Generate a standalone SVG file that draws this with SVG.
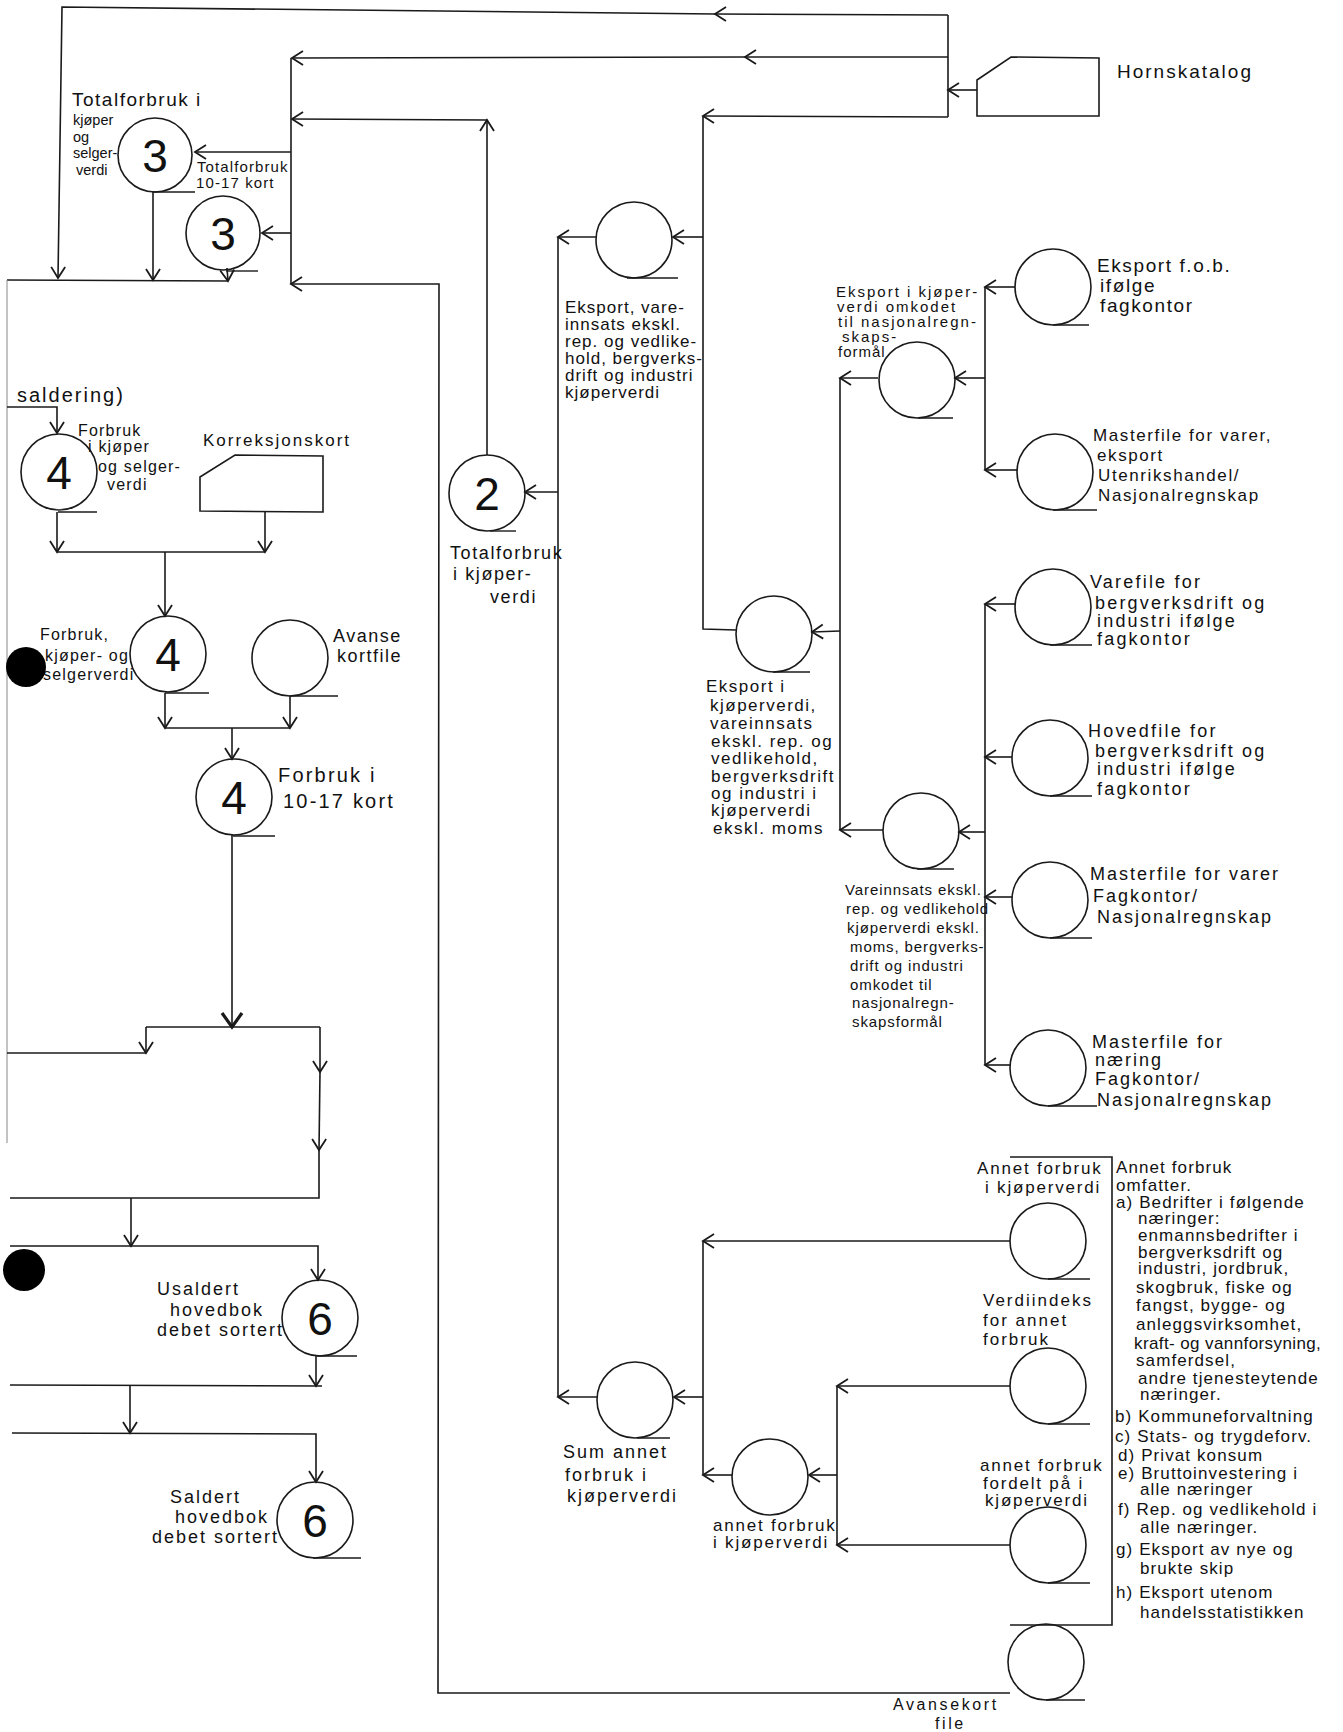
<svg xmlns="http://www.w3.org/2000/svg" width="1343" height="1732" viewBox="0 0 1343 1732">
<defs>
<marker id="a" markerUnits="userSpaceOnUse" markerWidth="30" markerHeight="30" viewBox="-15 -15 30 30" refX="0" refY="0" orient="auto" overflow="visible">
<path d="M-11,-7 L0,0 L-11,7" fill="none" stroke="#1a1a1a" stroke-width="1.8"/>
</marker>
<marker id="ab" markerUnits="userSpaceOnUse" markerWidth="40" markerHeight="40" viewBox="-20 -20 40 40" refX="0" refY="0" orient="auto" overflow="visible">
<path d="M-14,-10 L0,0 L-14,10" fill="none" stroke="#1a1a1a" stroke-width="3.2"/>
</marker>
</defs>
<style>
.ln{fill:none;stroke:#1a1a1a;stroke-width:1.6}
.ar{fill:none;stroke:#1a1a1a;stroke-width:1.6;marker-end:url(#a)}
.edge{fill:none;stroke:#888;stroke-width:1}
.nd circle{fill:none;stroke:#1a1a1a;stroke-width:1.6}
.nd polygon{fill:none;stroke:#1a1a1a;stroke-width:1.6}
.ul{fill:none;stroke:#1a1a1a;stroke-width:1.4}
.t{font-family:"Liberation Sans",Arial,sans-serif;fill:#111}
.d{font-family:"Liberation Sans",Arial,sans-serif;font-size:46px;fill:#111;text-anchor:middle}
.dot{fill:#000}
</style>
<rect width="1343" height="1732" fill="#fff"/>

<g id="connectors">
<path class="ar" d="M948,15 L715,14"/>
<path class="ar" d="M715,14 L62,7 L58,278"/>
<path class="ln" d="M948,15 L948,117"/>
<path class="ar" d="M948,57 L745,57"/>
<path class="ar" d="M745,57 L292,58"/>
<path class="ar" d="M948,117 L703,116"/>
<path class="ar" d="M977,90 L948,90"/>
<path class="ln" d="M703,116 L703,629 L736,630"/>
<path class="ar" d="M703,237 L673,237"/>
<path class="ar" d="M596,237 L558,237"/>
<path class="ln" d="M291,58 L291,284"/>
<path class="ar" d="M487,455 L487,120"/>
<path class="ar" d="M487,120 L292,119"/>
<path class="ar" d="M291,152 L195,152"/>
<path class="ar" d="M291,233 L262,233"/>
<path class="ar" d="M1010,1693 L438,1693 L439,284 L291,284"/>
<path class="ar" d="M153,192 L153,280"/>
<path class="ar" d="M227,268 L228,281"/>
<path class="ln" d="M7,280 L228,281"/>
<path class="edge" d="M7,280 L7,1143"/>
<path class="ar" d="M7,407 L57,407 L57,433"/>
<path class="ar" d="M57,512 L57,552"/>
<path class="ar" d="M265,512 L265,552"/>
<path class="ln" d="M57,552 L265,552"/>
<path class="ar" d="M165,552 L165,616"/>
<path class="ar" d="M165,693 L165,728"/>
<path class="ar" d="M290,696 L290,728"/>
<path class="ln" d="M165,728 L290,728"/>
<path class="ar" d="M232,728 L232,759"/>
<path class="ln" d="M232,835 L232,1027" style="marker-end:url(#ab)"/>
<path class="ln" d="M146,1027 L320,1027"/>
<path class="ar" d="M146,1027 L146,1053"/>
<path class="ln" d="M7,1053 L146,1053"/>
<path class="ar" d="M320,1027 L320,1072"/>
<path class="ar" d="M320,1072 L319,1150"/>
<path class="ln" d="M319,1150 L319,1198 L10,1198"/>
<path class="ar" d="M131,1198 L131,1246"/>
<path class="ar" d="M10,1246 L318,1246 L318,1280"/>
<path class="ar" d="M316,1356 L316,1386"/>
<path class="ln" d="M10,1385 L322,1386"/>
<path class="ar" d="M130,1385 L130,1433"/>
<path class="ar" d="M12,1433 L316,1434 L316,1482"/>
<path class="ln" d="M558,237 L558,1397"/>
<path class="ar" d="M597,1397 L558,1397"/>
<path class="ar" d="M558,492 L525,492"/>
<path class="ar" d="M840,631 L812,632"/>
<path class="ar" d="M878,378 L840,378"/>
<path class="ln" d="M840,378 L840,830"/>
<path class="ar" d="M883,830 L840,830"/>
<path class="ar" d="M1015,287 L985,287"/>
<path class="ln" d="M985,287 L985,470"/>
<path class="ar" d="M1017,470 L985,470"/>
<path class="ar" d="M985,378 L955,378"/>
<path class="ar" d="M1015,604 L985,604"/>
<path class="ln" d="M985,604 L985,1065"/>
<path class="ar" d="M1012,757 L985,757"/>
<path class="ar" d="M985,832 L959,832"/>
<path class="ar" d="M1012,897 L985,897"/>
<path class="ar" d="M1010,1065 L985,1065"/>
<path class="ar" d="M1010,1241 L703,1241"/>
<path class="ln" d="M703,1241 L703,1475"/>
<path class="ar" d="M703,1397 L674,1397"/>
<path class="ar" d="M732,1475 L703,1475"/>
<path class="ar" d="M1010,1386 L837,1386"/>
<path class="ln" d="M837,1386 L837,1545"/>
<path class="ar" d="M837,1475 L809,1475"/>
<path class="ar" d="M1010,1545 L837,1545"/>
<path class="ln" d="M1010,1157 L1112,1157 L1112,1625 L1010,1625"/>
</g>

<g id="n3a" class="nd"><circle cx="155" cy="155" r="37"/><path class="ul" d="M153,192 L195,192"/><text class="d" x="155" y="172">3</text>
<text class="t" font-size="19" letter-spacing="1.5" x="72" y="106">Totalforbruk i</text>
<text class="t" font-size="14.5"><tspan x="73" y="125">kjøper</tspan><tspan x="73" y="142">og</tspan><tspan x="73" y="158">selger-</tspan><tspan x="76" y="175">verdi</tspan></text></g>
<g id="n3b" class="nd"><circle cx="223" cy="233" r="37"/><path class="ul" d="M226,271 L258,271"/><text class="d" x="223" y="250">3</text>
<text class="t" font-size="15" letter-spacing="1.1"><tspan x="197" y="172">Totalforbruk</tspan><tspan x="196" y="188">10-17 kort</tspan></text></g>

<g id="n4a" class="nd"><circle cx="59" cy="472" r="38"/><path class="ul" d="M58,512 L97,512"/><text class="d" x="59" y="489">4</text>
<text class="t" font-size="20" letter-spacing="2" x="17" y="402">saldering)</text>
<text class="t" font-size="16" letter-spacing="1.2"><tspan x="78" y="436">Forbruk</tspan><tspan x="88" y="452">i kjøper</tspan><tspan x="98" y="472">og selger-</tspan><tspan x="107" y="490">verdi</tspan></text></g>
<g id="korreksjon" class="nd"><polygon points="200,477 235,455 323,456 323,512 200,511"/><text class="t" font-size="17" letter-spacing="2" x="203" y="446">Korreksjonskort</text></g>
<g id="n4b" class="nd"><circle cx="168" cy="654" r="38"/><path class="ul" d="M165,693 L209,693"/><text class="d" x="168" y="671">4</text>
<text class="t" font-size="16" letter-spacing="1.2"><tspan x="40" y="640">Forbruk,</tspan><tspan x="45" y="661">kjøper- og</tspan><tspan x="43" y="680">selgerverdi</tspan></text></g>
<g id="avanse1" class="nd"><circle cx="290" cy="658" r="38"/><path class="ul" d="M290,696 L338,696"/>
<text class="t" font-size="18" letter-spacing="1.5"><tspan x="333" y="642">Avanse</tspan><tspan x="337" y="662">kortfile</tspan></text></g>
<g id="n4c" class="nd"><circle cx="234" cy="797" r="38"/><path class="ul" d="M233,836 L275,836"/><text class="d" x="234" y="814">4</text>
<text class="t" font-size="20" letter-spacing="2.2"><tspan x="278" y="782">Forbruk i</tspan><tspan x="283" y="808">10-17 kort</tspan></text></g>

<g id="n6a" class="nd"><circle cx="320" cy="1318" r="38"/><path class="ul" d="M317,1356 L357,1356"/><text class="d" x="320" y="1335">6</text>
<text class="t" font-size="18" letter-spacing="2"><tspan x="157" y="1295">Usaldert</tspan><tspan x="170" y="1316">hovedbok</tspan><tspan x="157" y="1336">debet sortert</tspan></text></g>
<g id="n6b" class="nd"><circle cx="315" cy="1520" r="38"/><path class="ul" d="M313,1558 L361,1558"/><text class="d" x="315" y="1537">6</text>
<text class="t" font-size="18" letter-spacing="2"><tspan x="170" y="1503">Saldert</tspan><tspan x="175" y="1523">hovedbok</tspan><tspan x="152" y="1543">debet sortert</tspan></text></g>

<g id="n2" class="nd"><circle cx="487" cy="493" r="38"/><path class="ul" d="M490,531 L516,531"/><text class="d" x="487" y="510">2</text>
<text class="t" font-size="18" letter-spacing="1.6"><tspan x="450" y="559">Totalforbruk</tspan><tspan x="453" y="580">i kjøper-</tspan><tspan x="490" y="603">verdi</tspan></text></g>

<g id="hornskatalog" class="nd"><polygon points="977,80 1011,57 1099,58 1099,116 977,116"/><text class="t" font-size="19" letter-spacing="2" x="1117" y="78">Hornskatalog</text></g>

<g id="eksport1" class="nd"><circle cx="634" cy="240" r="38"/><path class="ul" d="M627,278 L678,278"/>
<text class="t" font-size="17" letter-spacing="1"><tspan x="565" y="313">Eksport, vare-</tspan><tspan x="565" y="330">innsats ekskl.</tspan><tspan x="565" y="347">rep. og vedlike-</tspan><tspan x="565" y="364">hold, bergverks-</tspan><tspan x="565" y="381">drift og industri</tspan><tspan x="565" y="398">kjøperverdi</tspan></text></g>

<g id="eksport2" class="nd"><circle cx="774" cy="634" r="38"/><path class="ul" d="M773,672 L810,672"/>
<text class="t" font-size="17" letter-spacing="1.5"><tspan x="706" y="692">Eksport i</tspan><tspan x="710" y="711">kjøperverdi,</tspan><tspan x="710" y="729">vareinnsats</tspan><tspan x="711" y="747">ekskl. rep. og</tspan><tspan x="711" y="764">vedlikehold,</tspan><tspan x="711" y="782">bergverksdrift</tspan><tspan x="711" y="799">og industri i</tspan><tspan x="711" y="816">kjøperverdi</tspan><tspan x="713" y="834">ekskl. moms</tspan></text></g>

<g id="eksport3" class="nd"><circle cx="917" cy="380" r="38"/><path class="ul" d="M918,418 L953,418"/>
<text class="t" font-size="15" letter-spacing="2"><tspan x="836" y="297">Eksport i kjøper-</tspan><tspan x="837" y="312">verdi omkodet</tspan><tspan x="838" y="327">til nasjonalregn-</tspan><tspan x="842" y="342">skaps-</tspan><tspan x="838" y="357" letter-spacing="1">formål</tspan></text></g>

<g id="vareinnsats" class="nd"><circle cx="921" cy="831" r="38"/><path class="ul" d="M917,869 L954,869"/>
<text class="t" font-size="15" letter-spacing="0.9"><tspan x="845" y="895">Vareinnsats ekskl.</tspan><tspan x="846" y="914">rep. og vedlikehold</tspan><tspan x="847" y="933">kjøperverdi ekskl.</tspan><tspan x="850" y="952">moms, bergverks-</tspan><tspan x="850" y="971">drift og industri</tspan><tspan x="850" y="990">omkodet til</tspan><tspan x="852" y="1008">nasjonalregn-</tspan><tspan x="852" y="1027">skapsformål</tspan></text></g>

<g id="fob" class="nd"><circle cx="1053" cy="287" r="38"/><path class="ul" d="M1053,325 L1089,325"/>
<text class="t" font-size="19" letter-spacing="1.6"><tspan x="1097" y="272">Eksport f.o.b.</tspan><tspan x="1100" y="292">ifølge</tspan><tspan x="1100" y="312">fagkontor</tspan></text></g>
<g id="mvarer1" class="nd"><circle cx="1055" cy="472" r="38"/><path class="ul" d="M1053,510 L1097,510"/>
<text class="t" font-size="17" letter-spacing="1.6"><tspan x="1093" y="441">Masterfile for varer,</tspan><tspan x="1097" y="461">eksport</tspan><tspan x="1098" y="481">Utenrikshandel/</tspan><tspan x="1098" y="501">Nasjonalregnskap</tspan></text></g>
<g id="varefile" class="nd"><circle cx="1053" cy="607" r="38"/><path class="ul" d="M1050,645 L1092,645"/>
<text class="t" font-size="18" letter-spacing="2.2"><tspan x="1090" y="588">Varefile for</tspan><tspan x="1095" y="609">bergverksdrift og</tspan><tspan x="1097" y="627">industri ifølge</tspan><tspan x="1097" y="645">fagkontor</tspan></text></g>
<g id="hovedfile" class="nd"><circle cx="1050" cy="758" r="38"/><path class="ul" d="M1050,796 L1092,796"/>
<text class="t" font-size="18" letter-spacing="2.2"><tspan x="1088" y="737">Hovedfile for</tspan><tspan x="1095" y="757">bergverksdrift og</tspan><tspan x="1097" y="775">industri ifølge</tspan><tspan x="1097" y="795">fagkontor</tspan></text></g>
<g id="mvarer2" class="nd"><circle cx="1050" cy="900" r="38"/><path class="ul" d="M1050,938 L1092,938"/>
<text class="t" font-size="18" letter-spacing="2"><tspan x="1090" y="880">Masterfile for varer</tspan><tspan x="1093" y="902">Fagkontor/</tspan><tspan x="1097" y="923">Nasjonalregnskap</tspan></text></g>
<g id="mnaering" class="nd"><circle cx="1048" cy="1068" r="38"/><path class="ul" d="M1048,1106 L1097,1106"/>
<text class="t" font-size="18" letter-spacing="2"><tspan x="1092" y="1048">Masterfile for</tspan><tspan x="1095" y="1066">næring</tspan><tspan x="1095" y="1085">Fagkontor/</tspan><tspan x="1097" y="1106">Nasjonalregnskap</tspan></text></g>

<g id="annet1" class="nd"><circle cx="1048" cy="1241" r="38"/><path class="ul" d="M1048,1279 L1090,1279"/>
<text class="t" font-size="17" letter-spacing="1.8"><tspan x="977" y="1174">Annet forbruk</tspan><tspan x="985" y="1193">i kjøperverdi</tspan></text></g>
<g id="verdiindeks" class="nd"><circle cx="1048" cy="1386" r="38"/><path class="ul" d="M1048,1424 L1090,1424"/>
<text class="t" font-size="17" letter-spacing="2"><tspan x="983" y="1306">Verdiindeks</tspan><tspan x="983" y="1326">for annet</tspan><tspan x="983" y="1345">forbruk</tspan></text></g>
<g id="annet3" class="nd"><circle cx="1048" cy="1545" r="38"/><path class="ul" d="M1048,1583 L1090,1583"/>
<text class="t" font-size="17" letter-spacing="1.8"><tspan x="980" y="1471">annet forbruk</tspan><tspan x="983" y="1489">fordelt på i</tspan><tspan x="985" y="1506">kjøperverdi</tspan></text></g>
<g id="avanse2" class="nd"><circle cx="1046" cy="1662" r="38"/><path class="ul" d="M1046,1700 L1085,1700"/>
<text class="t" font-size="16" letter-spacing="2.6"><tspan x="893" y="1710">Avansekort</tspan><tspan x="935" y="1729">file</tspan></text></g>

<g id="sumannet" class="nd"><circle cx="635" cy="1400" r="38"/><path class="ul" d="M637,1438 L670,1438"/>
<text class="t" font-size="18" letter-spacing="2"><tspan x="563" y="1458">Sum annet</tspan><tspan x="565" y="1481">forbruk i</tspan><tspan x="567" y="1502">kjøperverdi</tspan></text></g>
<g id="annet2" class="nd"><circle cx="770" cy="1477" r="38"/>
<text class="t" font-size="17" letter-spacing="1.8"><tspan x="713" y="1531">annet forbruk</tspan><tspan x="713" y="1548">i kjøperverdi</tspan></text></g>

<g id="omfatter">
<text class="t" font-size="17" letter-spacing="1.1">
<tspan x="1116" y="1173">Annet forbruk</tspan>
<tspan x="1116" y="1191">omfatter.</tspan>
<tspan x="1116" y="1208">a) Bedrifter i følgende</tspan>
<tspan x="1138" y="1224">næringer:</tspan>
<tspan x="1138" y="1241">enmannsbedrifter i</tspan>
<tspan x="1138" y="1258">bergverksdrift og</tspan>
<tspan x="1138" y="1274">industri, jordbruk,</tspan>
<tspan x="1136" y="1293">skogbruk, fiske og</tspan>
<tspan x="1136" y="1311">fangst, bygge- og</tspan>
<tspan x="1136" y="1330">anleggsvirksomhet,</tspan>
<tspan x="1134" y="1349" letter-spacing="0.4">kraft- og vannforsyning,</tspan>
<tspan x="1136" y="1366">samferdsel,</tspan>
<tspan x="1138" y="1384">andre tjenesteytende</tspan>
<tspan x="1140" y="1400">næringer.</tspan>
<tspan x="1115" y="1422">b) Kommuneforvaltning</tspan>
<tspan x="1115" y="1442">c) Stats- og trygdeforv.</tspan>
<tspan x="1118" y="1461">d) Privat konsum</tspan>
<tspan x="1118" y="1479">e) Bruttoinvestering i</tspan>
<tspan x="1140" y="1495">alle næringer</tspan>
<tspan x="1118" y="1515">f) Rep. og vedlikehold i</tspan>
<tspan x="1140" y="1533">alle næringer.</tspan>
<tspan x="1116" y="1555">g) Eksport av nye og</tspan>
<tspan x="1140" y="1574">brukte skip</tspan>
<tspan x="1116" y="1598">h) Eksport utenom</tspan>
<tspan x="1140" y="1618">handelsstatistikken</tspan>
</text>
</g>

<g id="holes">
<circle class="dot" cx="26" cy="667" r="20"/>
<circle class="dot" cx="24" cy="1270" r="21"/>
</g>
</svg>
